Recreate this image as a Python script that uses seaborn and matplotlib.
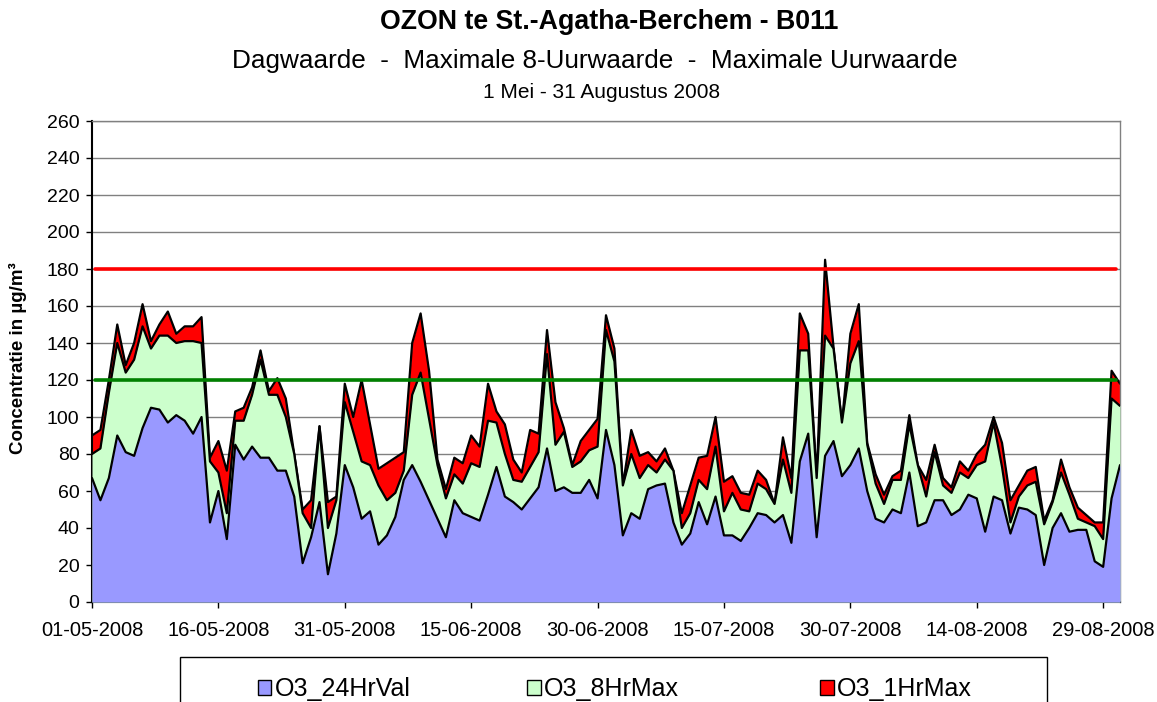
import numpy as np
import pandas as pd
import matplotlib
matplotlib.use("Agg")
import matplotlib.pyplot as plt
import matplotlib.patches as mpatches
import seaborn as sns

# ---------------- data ----------------
start_date = "2008-05-01"
end_date = "2008-08-31"

o3_1hrmax = [90, 93, 120, 150, 128, 140, 161, 141, 150, 157, 145, 149, 149, 154, 78,
             87, 71, 103, 105, 116, 136, 114, 121, 110, 80, 50, 55, 95, 54, 57,
             118, 100, 120, 96, 72, 75, 78, 81, 140, 156, 125, 77, 61, 78, 75,
             90, 84, 118, 103, 96, 77, 70, 93, 91, 147, 108, 94, 74, 87, 93,
             99, 155, 137, 63, 93, 79, 81, 76, 83, 71, 48, 63, 78, 79, 100,
             65, 68, 59, 58, 71, 66, 53, 89, 67, 156, 145, 67, 185, 138, 97,
             145, 161, 86, 69, 58, 68, 71, 101, 74, 66, 85, 67, 62, 76, 71,
             80, 85, 100, 86, 55, 63, 71, 73, 44, 55, 77, 62, 51, 47, 43,
             43, 125, 118]
o3_8hrmax = [80, 83, 113, 140, 124, 131, 149, 137, 144, 144, 140, 141, 141, 140, 76,
             70, 48, 98, 98, 112, 131, 112, 112, 100, 80, 48, 40, 95, 40, 55,
             108, 92, 76, 74, 63, 55, 59, 71, 112, 124, 99, 74, 56, 69, 64,
             75, 73, 98, 97, 80, 66, 65, 73, 81, 134, 85, 92, 73, 76, 82,
             84, 147, 130, 63, 80, 67, 74, 70, 77, 71, 40, 48, 66, 61, 84,
             49, 59, 50, 49, 64, 61, 53, 77, 59, 136, 136, 67, 144, 137, 97,
             129, 141, 85, 64, 53, 66, 66, 96, 74, 57, 81, 63, 59, 70, 67,
             74, 76, 97, 73, 43, 57, 63, 65, 42, 54, 70, 58, 45, 43, 41,
             34, 110, 106]
o3_24hrval = [67, 55, 67, 90, 81, 79, 94, 105, 104, 97, 101, 98, 91, 100, 43,
              60, 34, 85, 77, 84, 78, 78, 71, 71, 57, 21, 35, 54, 15, 37,
              74, 62, 45, 49, 31, 36, 46, 66, 74, 65, 55, 45, 35, 55, 48,
              46, 44, 58, 73, 57, 54, 50, 56, 62, 83, 60, 62, 59, 59, 66,
              56, 93, 74, 36, 48, 45, 61, 63, 64, 43, 31, 37, 54, 42, 57,
              36, 36, 33, 40, 48, 47, 43, 47, 32, 76, 91, 35, 79, 87, 68,
              74, 83, 60, 45, 43, 50, 48, 70, 41, 43, 55, 55, 47, 50, 58,
              56, 38, 57, 55, 37, 51, 50, 47, 20, 40, 48, 38, 39, 39, 22,
              19, 56, 74]

series_names = ["O3_24HrVal", "O3_8HrMax", "O3_1HrMax"]
series_colors = ["#9999FF", "#CCFFCC", "#FF0000"]
threshold_values = [180, 120]
threshold_colors = ["#FF0000", "#008000"]

x_tick_dates = ["2008-05-01", "2008-05-16", "2008-05-31", "2008-06-15", "2008-06-30",
                "2008-07-15", "2008-07-30", "2008-08-14", "2008-08-29"]
x_tick_labels = ["01-05-2008", "16-05-2008", "31-05-2008", "15-06-2008", "30-06-2008",
                 "15-07-2008", "30-07-2008", "14-08-2008", "29-08-2008"]
y_ticks = list(range(0, 261, 20))

title = "OZON te St.-Agatha-Berchem - B011"
subtitle = "Dagwaarde  -  Maximale 8-Uurwaarde  -  Maximale Uurwaarde"
subtitle2 = "1 Mei - 31 Augustus 2008"
ylabel = "Concentratie in µg/m³"

# ---------------- plot ----------------
sns.set_style("white")
plt.rcParams["font.family"] = ["Liberation Sans", "DejaVu Sans"]
plt.rcParams["text.color"] = "black"
plt.rcParams["axes.labelcolor"] = "black"
plt.rcParams["xtick.color"] = "black"
plt.rcParams["ytick.color"] = "black"

dates = pd.date_range(start_date, end_date, freq="D")
df = pd.DataFrame({"date": dates, "O3_1HrMax": o3_1hrmax,
                   "O3_8HrMax": o3_8hrmax, "O3_24HrVal": o3_24hrval})

W, H = 1157, 702
fig = plt.figure(figsize=(W / 100, H / 100), dpi=100)
ax = fig.add_axes([92 / W, 1 - 602 / H, (1120 - 92) / W, (602 - 121) / H])

draw_order = [("O3_1HrMax", series_colors[2]),
              ("O3_8HrMax", series_colors[1]),
              ("O3_24HrVal", series_colors[0])]
for i, (col, colr) in enumerate(draw_order):
    ax.fill_between(df["date"], 0, df[col], color=colr, lw=0, zorder=2 + i)
    sns.lineplot(data=df, x="date", y=col, color="black", lw=1.6, ax=ax,
                 zorder=2.5 + i)

for val, colr in zip(threshold_values, threshold_colors):
    ax.axhline(val, xmin=0.003, xmax=0.996, color=colr, lw=2.6, zorder=10)

ax.set_xlim(dates[0], dates[-1])
ax.set_ylim(0, 260)
ax.set_yticks(y_ticks)
ax.set_yticklabels([str(v) for v in y_ticks], fontsize=14)
ax.set_xticks(pd.to_datetime(x_tick_dates))
ax.set_xticklabels(x_tick_labels, fontsize=14.5)
ax.set_xlabel("")
ax.set_ylabel("")

ax.set_axisbelow(True)
ax.yaxis.grid(True, color="#808080", lw=1)
ax.xaxis.grid(False)
for side in ["top", "right"]:
    ax.spines[side].set_color("#808080")
    ax.spines[side].set_linewidth(1)
for side in ["left", "bottom"]:
    ax.spines[side].set_color("black")
    ax.spines[side].set_linewidth(1.5)
ax.tick_params(axis="y", direction="out", length=4, width=1, color="black", pad=5,
               left=True, labelcolor="black")
ax.tick_params(axis="x", direction="out", length=4, width=1, color="black", pad=10,
               bottom=True, labelcolor="black")

fig.text(609 / W, 1 - 22 / H, title, ha="center", va="center", fontsize=19.3,
         fontweight="bold", color="black")
fig.text(595 / W, 1 - 61 / H, subtitle, ha="center", va="center", fontsize=18.8,
         color="black")
fig.text(602 / W, 1 - 92 / H, subtitle2, ha="center", va="center", fontsize=15,
         color="black")
fig.text(18 / W, 1 - 358 / H, ylabel, ha="center", va="center", rotation=90,
         fontsize=13.5, fontweight="bold", color="black")

# legend: frame + three centred entries
frame = mpatches.Rectangle((180 / W, -0.05), 867 / W, 0.05 + (702 - 657) / H,
                           transform=fig.transFigure, fill=False,
                           edgecolor="black", lw=1)
fig.add_artist(frame)
centers = [334, 603, 896]
for name, colr, c in zip(series_names, series_colors, centers):
    h = mpatches.Patch(facecolor=colr, edgecolor="black", lw=1)
    leg = fig.legend([h], [name], loc="center", bbox_to_anchor=(c / W, 1 - 689 / H),
                     frameon=False, fontsize=18, handlelength=0.55, handleheight=0.55,
                     handletextpad=0.12, borderpad=0, borderaxespad=0)
    for t in leg.get_texts():
        t.set_color("black")

fig.savefig("out.png", dpi=100)
